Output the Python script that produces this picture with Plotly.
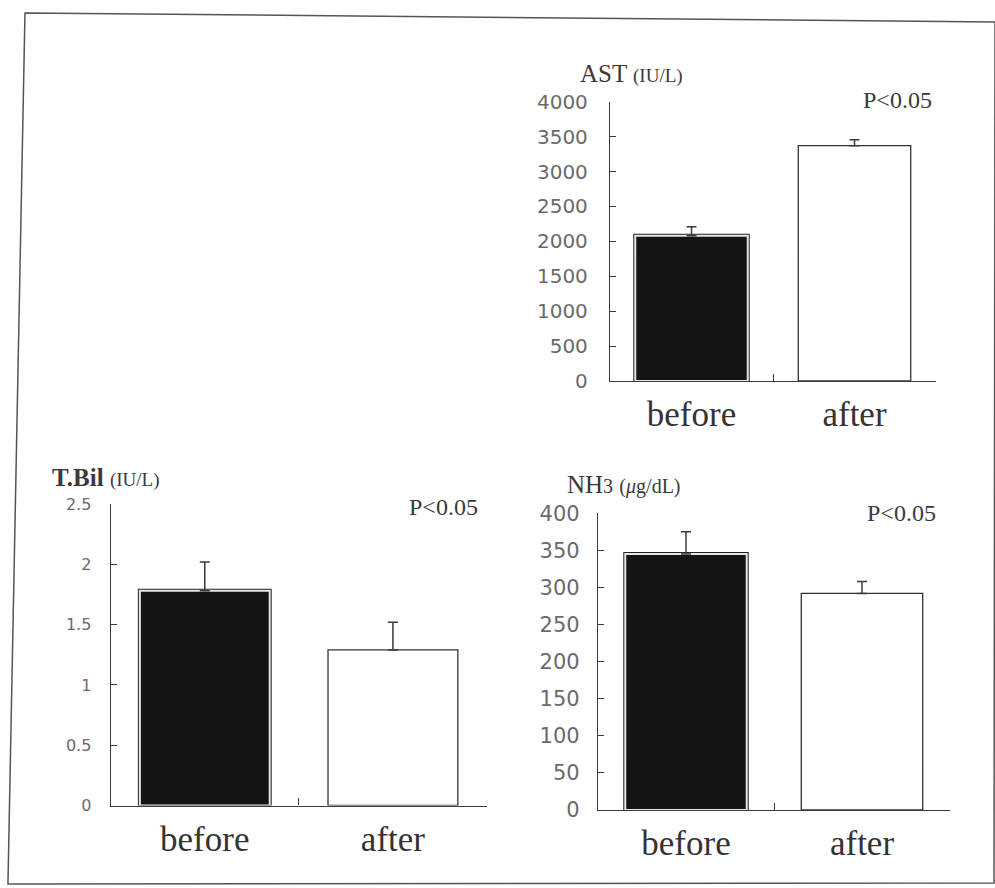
import plotly.graph_objects as go

W, H = 995, 888

categories = ["before", "after"]

ast_values = [2080, 3370]
ast_errors = [130, 85]
ast_ticks = [0, 500, 1000, 1500, 2000, 2500, 3000, 3500, 4000]

tbil_values = [1.78, 1.29]
tbil_errors = [0.24, 0.23]
tbil_ticks = [0, 0.5, 1, 1.5, 2, 2.5]
tbil_ticktext = ["0", "0.5", "1", "1.5", "2", "2.5"]

nh3_values = [345, 292]
nh3_errors = [30, 16]
nh3_ticks = [0, 50, 100, 150, 200, 250, 300, 350, 400]

p_text = "P<0.05"


def px(x):
    return x / W


def py(y):
    return 1 - y / H


fig = go.Figure()

panels = [
    # (axis suffix, values, errors, ticks, ticktext, ymax, xdom px, ydom px, tickfont size, standoff)
    ("", ast_values, ast_errors, ast_ticks, [str(t) for t in ast_ticks], 4000,
     (610, 936), (381, 101.7), 20, 17),
    ("2", tbil_values, tbil_errors, tbil_ticks, tbil_ticktext, 2.5,
     (110.7, 487), (805.5, 504), 16, 15),
    ("3", nh3_values, nh3_errors, nh3_ticks, [str(t) for t in nh3_ticks], 400,
     (598, 950), (810, 513.3), 21, 13),
]

BAR_W = 0.69
AXIS_COL = "#3a3a3a"

for suf, vals, errs, ticks, ticktext, ymax, xd, yd, tfs, stand in panels:
    xa = "x" + suf
    ya = "y" + suf
    # before bar: outer dark outline
    fig.add_trace(go.Bar(
        x=[categories[0]], y=[vals[0]], width=BAR_W, xaxis=xa, yaxis=ya,
        marker=dict(color="#141414", line=dict(color="#222222", width=4)),
        showlegend=False, hoverinfo="skip"))
    # before bar: white inner gap + error bar
    fig.add_trace(go.Bar(
        x=[categories[0]], y=[vals[0]], width=BAR_W, xaxis=xa, yaxis=ya,
        marker=dict(color="#141414", line=dict(color="#e6e6e6", width=2)),
        error_y=dict(type="data", symmetric=False, array=[errs[0]], arrayminus=[0],
                     color="#3a3a3a", thickness=1.5, width=5),
        showlegend=False, hoverinfo="skip"))
    # after bar
    fig.add_trace(go.Bar(
        x=[categories[1]], y=[vals[1]], width=BAR_W, xaxis=xa, yaxis=ya,
        marker=dict(color="white", line=dict(color="#333333", width=1.3)),
        error_y=dict(type="data", symmetric=False, array=[errs[1]], arrayminus=[0],
                     color="#3a3a3a", thickness=1.5, width=5),
        showlegend=False, hoverinfo="skip"))

    xkey = "xaxis" + suf
    ykey = "yaxis" + suf
    fig.layout[xkey] = dict(
        domain=[px(xd[0]), px(xd[1])], anchor=ya, automargin=False,
        type="category", categoryorder="array", categoryarray=categories,
        range=[-0.5, 1.5], showline=True, linecolor=AXIS_COL, linewidth=1.3,
        ticks="inside", ticklen=7, tickcolor=AXIS_COL, tickwidth=1.3,
        tickson="boundaries", showgrid=False, zeroline=False,
        tickfont=dict(family="Liberation Serif", size=35, color="#333333"),
        ticklabelstandoff=2, fixedrange=True)
    fig.layout[ykey] = dict(
        domain=[py(yd[0]), py(yd[1])], anchor=xa, automargin=False,
        range=[0, ymax], tickmode="array", tickvals=ticks, ticktext=ticktext,
        showline=True, linecolor=AXIS_COL, linewidth=1.3,
        ticks="inside", ticklen=6, tickcolor=AXIS_COL, tickwidth=1.3,
        showgrid=False, zeroline=False,
        tickfont=dict(family="DejaVu Sans", size=tfs, color="#6a6a6a"),
        ticklabelstandoff=stand, fixedrange=True)

ann_font = dict(family="Liberation Serif", color="#3a3a3a")

annotations = [
    dict(x=px(578), y=py(73), text="AST <span style='font-size:19px'>(IU/L)</span>",
         font=dict(size=25, **ann_font)),
    dict(x=px(50), y=py(477), text="<b>T.Bil</b> <span style='font-size:19px'>(IU/L)</span>",
         font=dict(size=25, **ann_font)),
    dict(x=px(565), y=py(484),
         text="NH<span style='font-size:20px'>3</span> <span style='font-size:20px'>(<i>μ</i>g/dL)</span>",
         font=dict(size=25, **ann_font)),
    dict(x=px(861), y=py(100), text=p_text, font=dict(size=24, **ann_font)),
    dict(x=px(407), y=py(507), text=p_text, font=dict(size=24, **ann_font)),
    dict(x=px(865), y=py(513), text=p_text, font=dict(size=24, **ann_font)),
]
for a in annotations:
    a.update(xref="paper", yref="paper", xanchor="left", yanchor="middle", showarrow=False)

fig.update_layout(
    width=W, height=H,
    margin=dict(l=0, r=0, t=0, b=0, pad=0, autoexpand=False),
    paper_bgcolor="white", plot_bgcolor="rgba(0,0,0,0)",
    barmode="overlay",
    annotations=annotations,
    shapes=[dict(
        type="path", xref="paper", yref="paper",
        path="M {:.4f},{:.4f} L {:.4f},{:.4f} L {:.4f},{:.4f} L {:.4f},{:.4f} Z".format(
            px(25), py(13), px(995), py(22), px(994), py(883), px(8), py(884)),
        line=dict(color="#555555", width=1.5), fillcolor="rgba(0,0,0,0)")],
)

fig.write_html(
    "out.html",
    config={"displayModeBar": False},
    post_script="document.body.style.margin='0px';document.body.style.overflow='hidden';",
)
